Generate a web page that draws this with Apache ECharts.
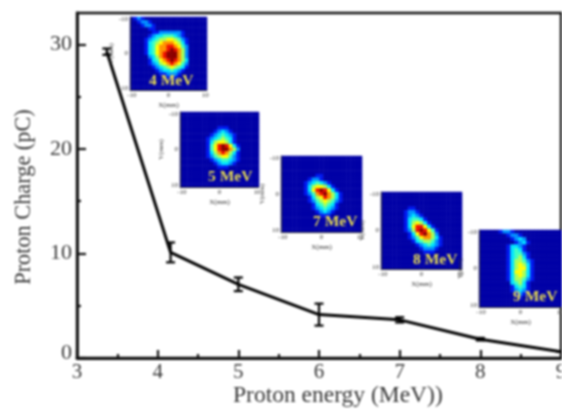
<!DOCTYPE html>
<html><head><meta charset="utf-8">
<script src="https://cdn.jsdelivr.net/npm/echarts@6/dist/echarts.min.js"></script>
<style>html,body{margin:0;padding:0;background:#fff;overflow:hidden}#c{width:562px;height:409px;filter:blur(.9px)}</style>
</head><body><div id="c"></div>
<script>
const energy=[3.37,4.16,5,6,7,8,9];
const charge=[29.3,10.1,7.05,4.15,3.65,1.8,0.6];
const errLow=[0.3,0.95,0.65,1.05,0.25,0.12,0];
const errHigh=[0.3,0.95,0.65,1.05,0.25,0.12,0];
const yTicks=[0,10,20,30];
const yMinor=[5,15,25];
const insetLabels=['4 MeV','5 MeV','7 MeV','8 MeV','9 MeV'];
const jet=['#0000a6','#0018f0','#0090ff','#00e4ff','#40ffc0','#a8ff58','#ffff00','#ff9400','#f01000','#8c0000'];
const blank='000000000000000000000';
const map4=['012100000000000000000','001221000000000000000','000122100000000000000','000001100000000000000','000000112222221000000','000001233444321000000','000012345566542100000','000013456777653100000','000013467788764200000','000013467789875200000','000013467899975200000','000002357899975200000','000001346789875300000','000001235678764200000','000000123456543100000','000000012334321000000','000000001122210000000','000000000011100000000',blank,blank,blank];
const map5=[blank,blank,blank,blank,'000000000011100000000','000000000123210000000','000000001234321000000','000000012345431000000','000000013566531000000','000000014689863100000','000000014689975200000','000000013578753100000','000000012456642100000','000000001234432100000','000000000123321000000','000000000011100000000',blank,blank,blank,blank,blank];
const map7=[blank,blank,blank,blank,blank,'000000000110000000000','000000012210000000000','000000123432100000000','000000135665310000000','000000136898631000000','000000124789753100000','000000013568753100000','000000012456542100000','000000001345431000000','000000001234321000000','000000000123210000000','000000000011100000000',blank,blank,blank,blank];
const map8=[blank,blank,blank,blank,'000000011000000000000','000000122100000000000','000000123210000000000','000000134431000000000','000000135653100000000','000000136886310000000','000000125898641000000','000000013689752000000','000000012467753100000','000000001345542100000','000000000123432100000','000000000012221000000','000000000001110000000',blank,blank,blank,blank];
const map9=['000001221000000000000','000000012210000000000','000000001232000000000','000000000123100000000','000000013321000000000','000000013431000000000','000000013442100000000','000000013453100000000','000000013554210000000','000000013565310000000','000000013566310000000','000000013665310000000','000000013565310000000','000000013554210000000','000000003453100000000','000000001343100000000','000000001232100000000','000000000121000000000','000000000010000000000',blank,blank];
const maps=[map4,map5,map7,map8,map9];
const boxes=[[130,17,77,73],[180,112,79,75],[281,156,81,76],[381,192,81,77],[479,230,83,77]];
const labelPos=[[149,73],[208,169],[313,214],[413,252],[513,289]];
const coords=[];for(let i=-10;i<=10;i++)coords.push(String(i));
const F='"Liberation Serif",serif',G='#383838',K='#101010';
const grids=[{left:77,right:1,top:13,bottom:51,show:true,borderColor:K,borderWidth:2.4,backgroundColor:'transparent',z:1,outerBoundsMode:'none'}];
const xAxes=[{type:'value',min:3,max:9,interval:1,gridIndex:0,axisLine:{lineStyle:{color:K,width:2.8}},
 axisTick:{inside:true,length:8,lineStyle:{color:K,width:2.2}},minorTick:{show:true,splitNumber:2,length:4,lineStyle:{color:K,width:2.2}},
 splitLine:{show:false},axisLabel:{color:G,fontFamily:F,fontSize:21,margin:4,showMaxLabel:true,hideOverlap:false}}];
const yAxes=[{type:'value',min:0,max:33,gridIndex:0,position:'left',axisLine:{lineStyle:{color:K,width:2.8}},
 axisTick:{inside:true,length:9,customValues:yTicks,lineStyle:{color:K,width:2.2}},splitLine:{show:false},
 axisLabel:{customValues:yTicks,color:G,fontFamily:F,fontSize:22,margin:5,
  formatter:v=>v===0?'{z|0}':String(v),rich:{z:{fontFamily:F,fontSize:22,color:G,padding:[0,0,10,0]}}}},
 {type:'value',min:0,max:33,gridIndex:0,position:'left',axisLine:{show:false},axisLabel:{show:false},splitLine:{show:false},
 axisTick:{inside:true,length:4,customValues:yMinor,lineStyle:{color:K,width:2.2}}}];
const series=[
 {type:'line',xAxisIndex:0,yAxisIndex:0,data:energy.map((x,i)=>[x,charge[i]]),symbol:'none',lineStyle:{color:'#000',width:3},z:3},
 {type:'custom',xAxisIndex:0,yAxisIndex:0,z:4,data:energy.map((x,i)=>[x,charge[i]-errLow[i],charge[i]+errHigh[i]]),
  renderItem(p,api){const a=api.coord([api.value(0),api.value(1)]),b=api.coord([api.value(0),api.value(2)]);const s={stroke:'#000',lineWidth:2.2},w=4.5;
   return {type:'group',children:[{type:'line',shape:{x1:a[0],y1:a[1],x2:b[0],y2:b[1]},style:s},{type:'line',shape:{x1:a[0]-w,y1:a[1],x2:a[0]+w,y2:a[1]},style:s},{type:'line',shape:{x1:b[0]-w,y1:b[1],x2:b[0]+w,y2:b[1]},style:s}]};}}
];
const heatIdx=[];
maps.forEach((m,k)=>{const gi=k+1,b=boxes[k];
 grids.push({left:b[0],top:b[1],width:b[2],height:b[3],show:false,z:5,outerBoundsMode:'none'});
 const lab={show:true,fontSize:7,color:'#333',fontFamily:F,margin:2,interval:(i)=>i%10===0};
 xAxes.push({type:'category',gridIndex:gi,data:coords,z:6,name:'X(mm)',nameLocation:'middle',nameGap:12,nameTextStyle:{fontSize:7,color:'#333',fontFamily:F},
  axisLine:{lineStyle:{color:'#333',width:1}},axisTick:{show:false},axisLabel:lab,splitLine:{show:false},splitArea:{show:false}});
 yAxes.push({type:'category',gridIndex:gi,data:coords,inverse:true,z:6,name:'Y(mm)',nameLocation:'middle',nameGap:8,nameTextStyle:{fontSize:7,color:'#333',fontFamily:F},
  axisLine:{lineStyle:{color:'#333',width:1}},axisTick:{show:false},axisLabel:lab,splitLine:{show:false},splitArea:{show:false}});
 const d=[];m.forEach((row,r)=>{for(let c=0;c<21;c++)d.push([c,r,+row[c]||0]);});
 heatIdx.push(series.length);
 series.push({type:'heatmap',xAxisIndex:gi,yAxisIndex:gi+1,data:d,z:5,progressive:0,animation:false,emphasis:{disabled:true},itemStyle:{borderWidth:0}});
});
const graphic=[
 {type:'text',left:233,top:384,style:{text:'Proton energy (MeV))',fill:G,font:'23.5px '+F}},
 {type:'text',x:24,y:197,rotation:Math.PI/2,style:{text:'Proton Charge (pC)',fill:G,font:'22.3px '+F,align:'center',verticalAlign:'middle'}}
];
insetLabels.forEach((t,i)=>graphic.push({type:'text',left:labelPos[i][0],top:labelPos[i][1],z:20,style:{text:t,fill:'#eadf50',font:'bold 15.5px '+F}}));
const chart=echarts.init(document.getElementById('c'),null,{renderer:'canvas'});
chart.setOption({animation:false,backgroundColor:'#fff',grid:grids,xAxis:xAxes,yAxis:yAxes,series,graphic,tooltip:{show:false},
 visualMap:{show:false,type:'continuous',min:0,max:9,seriesIndex:heatIdx,inRange:{color:jet},calculable:false}});
</script></body></html>
